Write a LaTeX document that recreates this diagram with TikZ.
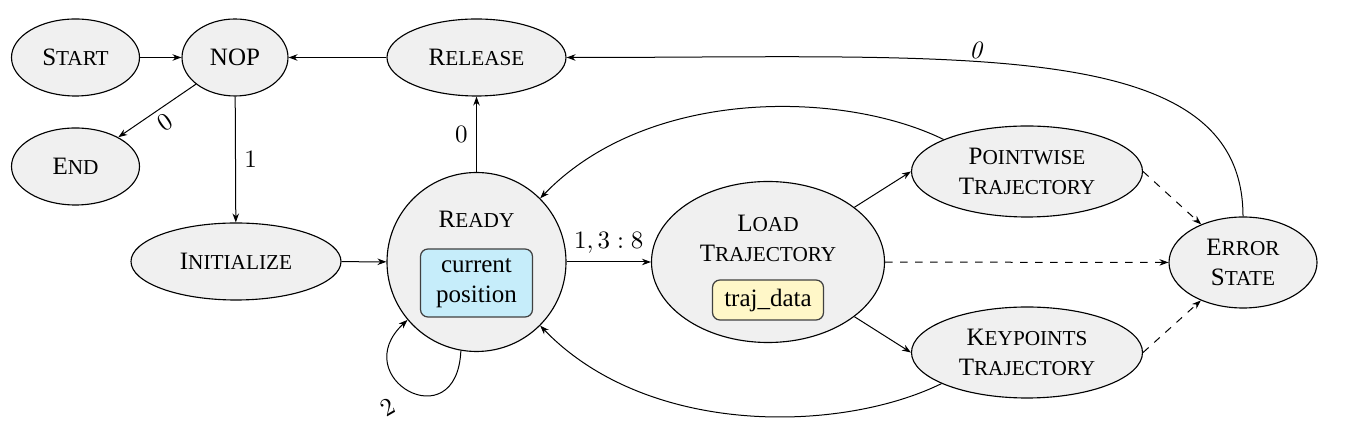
\documentclass[tikz,border=0pt]{standalone}
\usepackage[no-math]{fontspec}
\setmainfont{Liberation Serif}
\usetikzlibrary{shapes.geometric, arrows.meta}
\definecolor{nodegray}{RGB}{240,240,240}
\definecolor{boxcyan}{RGB}{198,237,250}
\definecolor{boxyellow}{RGB}{255,247,200}
\newcommand\fsc[2]{#1{\fontsize{8.5pt}{10pt}\selectfont #2}}
\begin{document}
\begin{tikzpicture}[x=0.4pt, y=-0.4pt,
  state/.style={ellipse, draw, fill=nodegray, inner sep=0pt, line width=0.45pt, align=center},
  infobox/.style={rectangle, rounded corners=3pt, draw=black!75, line width=0.5pt, inner sep=0pt, align=center},
  arr/.style={-{Stealth[length=3.6pt,width=2.6pt]}, line width=0.4pt}
]
\useasboundingbox (0,0) rectangle (1345,444);

% nodes
\node[state, minimum width=51.2pt, minimum height=30.8pt] (start) at (75.5,57.5) {\fsc{S}{TART}};
\node[state, minimum width=42.4pt, minimum height=30.8pt] (nop) at (235,57.5) {NOP};
\node[state, minimum width=71.6pt, minimum height=30.8pt] (release) at (476.5,57.5) {\fsc{R}{ELEASE}};
\node[state, minimum width=51.2pt, minimum height=30.8pt] (end) at (75.5,166.5) {\fsc{E}{ND}};
\node[state, minimum width=84pt, minimum height=30.8pt] (init) at (236,261.5) {\fsc{I}{NITIALIZE}};
\node[state, circle, minimum size=71.6pt] (ready) at (476.5,262) {};
\node (readytitle) at (476.5,219) {\fsc{R}{EADY}};
\node[infobox, fill=boxcyan, minimum width=44.8pt, minimum height=27.2pt] (curpos) at (476.5,283) {current\\position};
\node[state, minimum width=93.2pt, minimum height=64.4pt] (load) at (768,262) {};
\node[align=center] (loadtitle) at (768,238.5) {\fsc{L}{OAD}\\\fsc{T}{RAJECTORY}};
\node[infobox, fill=boxyellow, minimum width=44.4pt, minimum height=16pt] (traj) at (768,300) {traj\_data};
\node[state, minimum width=92.4pt, minimum height=36.4pt] (pointwise) at (1027,171.5) {\fsc{P}{OINTWISE}\\\fsc{T}{RAJECTORY}};
\node[state, minimum width=92.4pt, minimum height=36.4pt] (keypoints) at (1027,352.5) {\fsc{K}{EYPOINTS}\\\fsc{T}{RAJECTORY}};
\node[state, minimum width=59.2pt, minimum height=36.4pt] (error) at (1243,262.5) {\fsc{E}{RROR}\\\fsc{S}{TATE}};

% straight edges
\draw[arr] (start) -- (nop);
\draw[arr] (release) -- (nop);
\draw[arr] (nop) -- node[sloped, below, inner sep=2pt] {$0$} (end);
\draw[arr] (nop) -- node[right] {$1$} (init);
\draw[arr] (init) -- (ready);
\draw[arr] (ready) -- node[left] {$0$} (release);
\draw[arr] (ready) -- node[above] {$1,3:8$} (load);
\draw[arr] (load) -- (pointwise.west);
\draw[arr] (load) -- (keypoints.west);
\draw[arr, dashed] (load) -- (error);
\draw[arr, dashed] (pointwise.east) -- (error);
\draw[arr, dashed] (keypoints.east) -- (error);

% curved edges
\draw[arr] (error.north) .. controls +(0,-180) and +(400,0) .. node[pos=0.6, above, inner sep=1pt] {$\mathit{0}$} (release.east);
\draw[arr] (pointwise.159) .. controls +(-100,-49) and +(108,-112) .. (ready.45);
\draw[arr] (keypoints.200) .. controls +(-100,49) and +(108,112) .. (ready.-45);
\draw[arr] (ready.260) .. controls +(-4,90) and +(-62,58) .. node[pos=0.5, shift={(-22,17)}, rotate=30] {$2$} (ready.220);
\end{tikzpicture}
\end{document}
